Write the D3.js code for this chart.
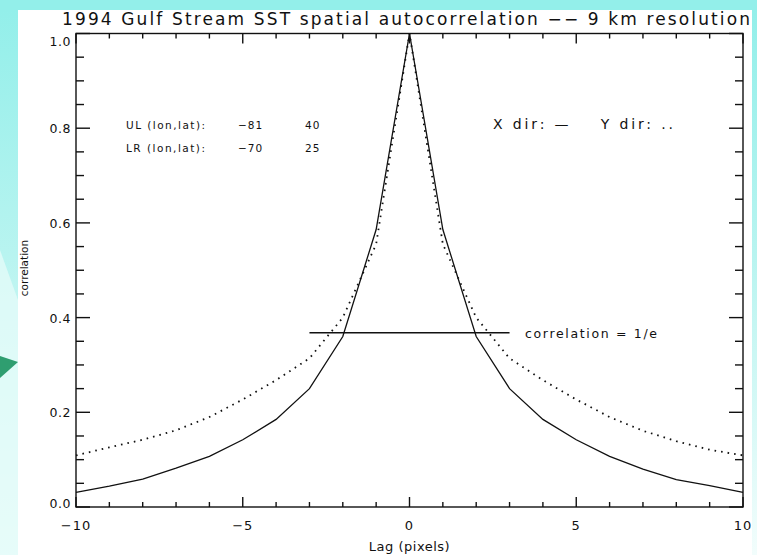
<!DOCTYPE html>
<html>
<head>
<meta charset="utf-8">
<script src="https://cdn.jsdelivr.net/npm/d3@7"></script>
<style>
  html, body { margin: 0; padding: 0; background: #93efea; }
  svg { display: block; }
  text { font-family: "DejaVu Sans", "Liberation Sans", sans-serif; fill: #111; }
</style>
</head>
<body>
<div id="chart"></div>
<script>
(function () {
      'use strict';

      // lag in pixels
      var lags = [-10, -9, -8, -7, -6, -5, -4, -3, -2, -1, 0, 1, 2, 3, 4, 5, 6, 7, 8, 9, 10];
      // X direction (solid)
      var xDir = [0.031, 0.044, 0.059, 0.082, 0.107, 0.142, 0.185, 0.25, 0.36, 0.586, 1.0,
                  0.586, 0.36, 0.25, 0.185, 0.142, 0.107, 0.080, 0.058, 0.045, 0.031];
      // Y direction (dotted)
      var yDir = [0.109, 0.126, 0.142, 0.162, 0.19, 0.227, 0.268, 0.314, 0.40, 0.555, 1.0,
                  0.555, 0.40, 0.314, 0.268, 0.227, 0.19, 0.161, 0.139, 0.121, 0.109];

      var xMajor = [-10, -5, 0, 5, 10];
      var yMajor = [0, 0.2, 0.4, 0.6, 0.8, 1.0];
      var yMajorLabels = ['0.0', '0.2', '0.4', '0.6', '0.8', '1.0'];
      var corners = [
            { name: 'UL (lon,lat):', lon: '\u221281', lat: '40' },
            { name: 'LR (lon,lat):', lon: '\u221270', lat: '25' }
      ];
      var eFold = 1 / Math.E;

      var W = 757, H = 555;
      var x = d3.scaleLinear().domain([-10, 10]).range([76, 743]);
      var y = d3.scaleLinear().domain([0, 1]).range([507, 33.5]);

      var svg = d3.select('#chart').append('svg')
            .attr('width', W)
            .attr('height', H);

      function drawBackground() {
            var defs = svg.append('defs');
            var g = defs.append('linearGradient')
                  .attr('id', 'side')
                  .attr('x1', 0).attr('y1', 0).attr('x2', 0).attr('y2', 1);
            g.append('stop').attr('offset', '0%').attr('stop-color', '#93efea');
            g.append('stop').attr('offset', '45%').attr('stop-color', '#b8f4f0');
            g.append('stop').attr('offset', '100%').attr('stop-color', '#f2fdfc');

            svg.append('rect').attr('width', W).attr('height', H).attr('fill', '#93efea');
            svg.append('rect')
                  .attr('x', 0).attr('y', 10).attr('width', 18).attr('height', H - 10)
                  .attr('fill', 'url(#side)');
            svg.append('path')
                  .attr('d', 'M0,250 L18,300 L18,555 L0,555 Z')
                  .attr('fill', '#e4fbf9').attr('opacity', 0.8);
            svg.append('path')
                  .attr('d', 'M0,356 L18,362 L0,378 Z')
                  .attr('fill', '#2f9e70');
            svg.append('rect')
                  .attr('x', 752).attr('y', 10).attr('width', 5).attr('height', H - 10)
                  .attr('fill', 'url(#side)');
            svg.append('rect')
                  .attr('x', 18).attr('y', 10).attr('width', 734).attr('height', H - 10)
                  .attr('fill', '#fff');
      }

      function drawAxes() {
            var ax = svg.append('g').attr('class', 'axes');
            var x0 = x.range()[0], x1 = x.range()[1];
            var y0 = y.range()[0], y1 = y.range()[1];

            ax.append('rect')
                  .attr('x', x0).attr('y', y1)
                  .attr('width', x1 - x0).attr('height', y0 - y1)
                  .attr('fill', 'none')
                  .attr('stroke', '#111')
                  .attr('stroke-width', 1.4);

            var xt = d3.range(-10, 11, 1);
            var yt = d3.range(0, 21, 1).map(function(i) { return i * 0.05; });
            function isMajorX(v) { return v % 5 === 0; }
            function isMajorY(v) { return Math.abs(v * 5 - Math.round(v * 5)) < 1e-6; }

            var ticks = [];
            xt.forEach(function(v) {
                  var len = isMajorX(v) ? 10 : 5;
                  ticks.push([x(v), y0, x(v), y0 - len]);
                  ticks.push([x(v), y1, x(v), y1 + len]);
            });
            yt.forEach(function(v) {
                  var len = isMajorY(v) ? 14 : 8;
                  ticks.push([x0, y(v), x0 + len, y(v)]);
                  ticks.push([x1, y(v), x1 - len, y(v)]);
            });
            ax.selectAll('line.tick')
                  .data(ticks)
                  .enter().append('line')
                  .attr('class', 'tick')
                  .attr('x1', function(d) { return d[0]; })
                  .attr('y1', function(d) { return d[1]; })
                  .attr('x2', function(d) { return d[2]; })
                  .attr('y2', function(d) { return d[3]; })
                  .attr('stroke', '#111')
                  .attr('stroke-width', 1.4);

            ax.selectAll('text.xl')
                  .data(xMajor)
                  .enter().append('text')
                  .attr('class', 'xl')
                  .attr('x', function(d) { return x(d); })
                  .attr('y', 530)
                  .attr('text-anchor', 'middle')
                  .style('font-size', '13px')
                  .style('letter-spacing', '1px')
                  .text(function(d) { return d < 0 ? '\u2212' + Math.abs(d) : d; });

            ax.selectAll('text.yl')
                  .data(yMajor)
                  .enter().append('text')
                  .attr('class', 'yl')
                  .attr('x', 71)
                  .attr('y', function(d) {
                        if (d === 1) return y(d) + 12;
                        if (d === 0) return y(d) + 1;
                        return y(d) + 5;
                  })
                  .attr('text-anchor', 'end')
                  .style('font-size', '12.5px')
                  .style('letter-spacing', '0.5px')
                  .text(function(d, i) { return yMajorLabels[i]; });

            svg.append('text')
                  .attr('x', x(0))
                  .attr('y', 551)
                  .attr('text-anchor', 'middle')
                  .style('font-size', '13px')
                  .style('letter-spacing', '0.5px')
                  .text('Lag (pixels)');

            svg.append('text')
                  .attr('transform', 'translate(28,' + 268 + ') rotate(-90)')
                  .attr('text-anchor', 'middle')
                  .style('font-size', '10.5px')
                  .text('correlation');

            svg.append('text')
                  .attr('x', 62)
                  .attr('y', 25)
                  .attr('textLength', 688)
                  .attr('lengthAdjust', 'spacing')
                  .style('font-size', '17px')
                  .text('1994 Gulf Stream SST spatial autocorrelation \u2212\u2212 9 km resolution');
      }

      function drawLines() {
            var line = d3.line()
                  .x(function(d) { return x(d[0]); })
                  .y(function(d) { return y(d[1]); });

            svg.append('path')
                  .datum(d3.zip(lags, xDir))
                  .attr('d', line)
                  .attr('fill', 'none')
                  .attr('stroke', '#111')
                  .attr('stroke-width', 1.3);

            svg.append('path')
                  .datum(d3.zip(lags, yDir))
                  .attr('d', line)
                  .attr('fill', 'none')
                  .attr('stroke', '#111')
                  .attr('stroke-width', 1.8)
                  .attr('stroke-dasharray', '1.6 5');

            svg.append('line')
                  .attr('x1', x(-3)).attr('x2', x(3))
                  .attr('y1', y(eFold)).attr('y2', y(eFold))
                  .attr('stroke', '#111')
                  .attr('stroke-width', 1.4);

            svg.append('text')
                  .attr('x', 525)
                  .attr('y', 338)
                  .attr('textLength', 132)
                  .attr('lengthAdjust', 'spacing')
                  .style('font-size', '12.5px')
                  .text('correlation = 1/e');
      }

      function drawNotes() {
            var rows = svg.selectAll('g.corner')
                  .data(corners)
                  .enter().append('g')
                  .attr('class', 'corner')
                  .attr('transform', function(d, i) { return 'translate(0,' + (129 + i * 22.5) + ')'; })
                  .style('font-size', '10.5px');
            rows.append('text').attr('x', 126).attr('textLength', 79)
                  .attr('lengthAdjust', 'spacing')
                  .text(function(d) { return d.name; });
            rows.append('text').attr('x', 238)
                  .style('letter-spacing', '1px')
                  .text(function(d) { return d.lon; });
            rows.append('text').attr('x', 305)
                  .style('letter-spacing', '1px')
                  .text(function(d) { return d.lat; });

            svg.append('text')
                  .attr('x', 493)
                  .attr('y', 129)
                  .attr('textLength', 180)
                  .attr('lengthAdjust', 'spacing')
                  .style('font-size', '14px')
                  .attr('xml:space', 'preserve')
                  .text('X dir: \u2014    Y dir: ..');
      }

      drawBackground();
      drawAxes();
      drawLines();
      drawNotes();
})();
</script>
</body>
</html>
